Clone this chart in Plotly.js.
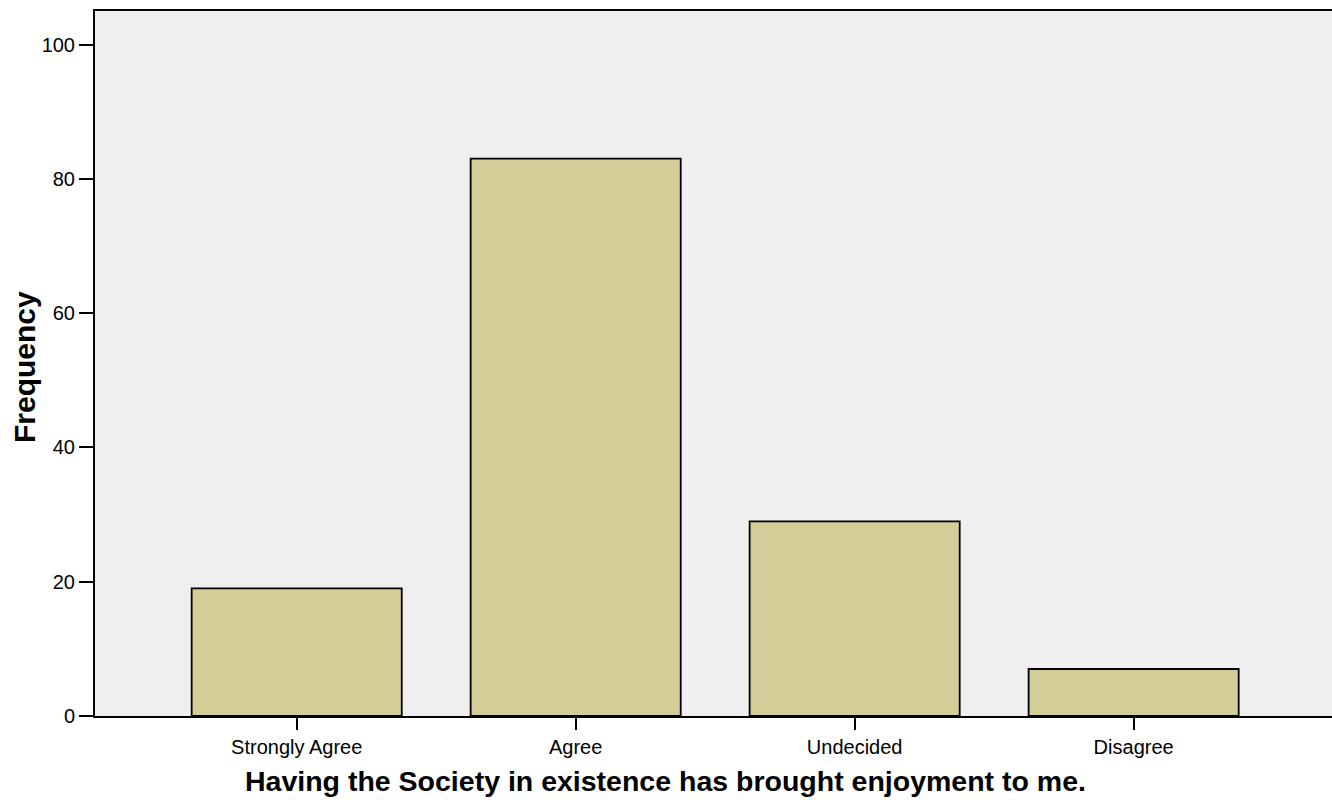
<!DOCTYPE html>
<html>
<head>
<meta charset="utf-8">
<script src="https://cdn.plot.ly/plotly-3.0.1.min.js"></script>
<style>html,body{margin:0;padding:0;background:#fff;}#chart{width:1332px;height:800px;}</style>
</head>
<body>
<div id="chart"></div>
<script>
const categories = ["Strongly Agree", "Agree", "Undecided", "Disagree"];
const frequencies = [19, 83, 29, 7];
const yTicks = [0, 20, 40, 60, 80, 100];
const xTitle = "Having the Society in existence has brought enjoyment to me.";
const yTitle = "Frequency";

const trace = {
  type: "bar",
  x: categories,
  y: frequencies,
  marker: { color: "#d3ce97", line: { color: "#000000", width: 1.8 } },
  hoverinfo: "x+y"
};

const layout = {
  width: 1332,
  height: 800,
  margin: { l: 95, r: 0, t: 11, b: 84 },
  paper_bgcolor: "#ffffff",
  plot_bgcolor: "#efefef",
  bargap: 0.247,
  showlegend: false,
  font: { family: "Liberation Sans, Arial, sans-serif", color: "#000" },
  xaxis: {
    type: "category",
    range: [-0.723, 3.711],
    showline: true, linecolor: "#000", linewidth: 2, mirror: true,
    ticks: "outside", ticklen: 12, tickwidth: 2, tickcolor: "#000",
    showgrid: false, zeroline: false,
    tickfont: { size: 20, color: "#000" }
  },
  yaxis: {
    range: [0, 105],
    tickvals: yTicks,
    ticktext: yTicks.map(String),
    showline: true, linecolor: "#000", linewidth: 2, mirror: false,
    ticks: "outside", ticklen: 14, tickwidth: 2, tickcolor: "#000",
    showgrid: false, zeroline: false,
    tickfont: { size: 20, color: "#000" }
  },
  annotations: [
    { text: "<b>" + xTitle + "</b>", xref: "paper", yref: "paper", x: 0.4616, y: -0.0922,
      xanchor: "center", yanchor: "middle", showarrow: false, font: { size: 28.5, color: "#000" } },
    { text: "<b>" + yTitle + "</b>", xref: "paper", yref: "paper", x: -0.0574, y: 0.495,
      xanchor: "center", yanchor: "middle", textangle: -90, showarrow: false, font: { size: 30, color: "#000" } }
  ]
};

Plotly.newPlot("chart", [trace], layout, { displayModeBar: false, staticPlot: true });
</script>
</body>
</html>
